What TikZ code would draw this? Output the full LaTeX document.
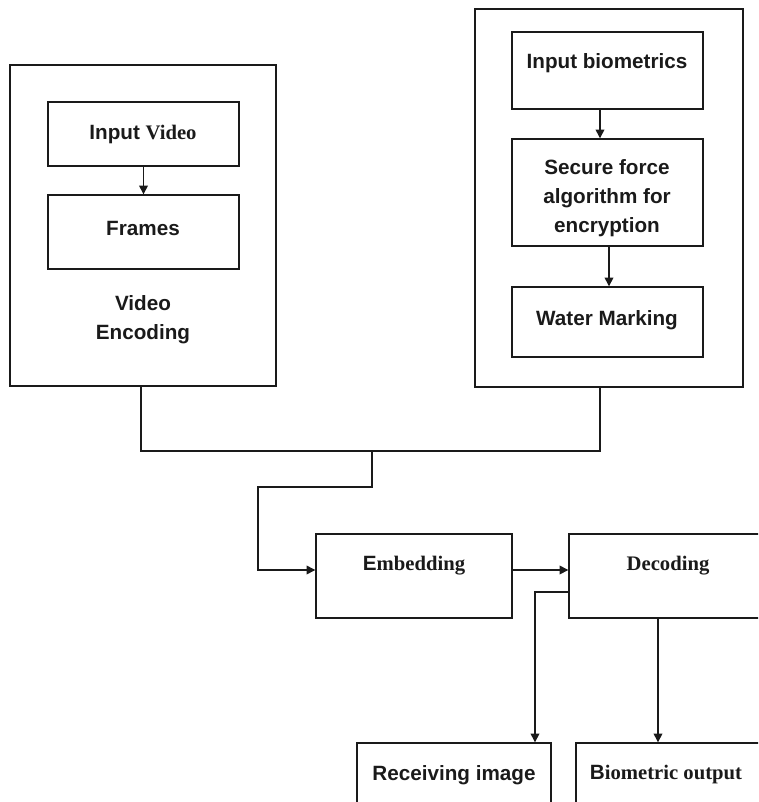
\documentclass[tikz,border=0pt]{standalone}
\usepackage{fontspec}
\setmainfont{Liberation Serif}
\setsansfont{Liberation Sans}
\usetikzlibrary{arrows.meta,fit}
\definecolor{ink}{HTML}{1A1A1A}
\tikzset{
  box/.style={draw=ink, line width=1.05pt, inner sep=0pt, fill=none},
  txt/.style={text=ink, font=\fontsize{15.5pt}{21.5pt}\selectfont\bfseries\sffamily, align=center, inner sep=0pt},
  conn/.style={draw=ink, line width=1pt},
  arr/.style={conn, -{Triangle[length=6.5pt,width=6.5pt]}}
}
\newcommand{\srf}{\rmfamily\bfseries}
\begin{document}
\begin{tikzpicture}[x=0.75pt,y=-0.75pt]
\useasboundingbox (0,0) rectangle (758,802);
\clip (0,0) rectangle (758,802);
% outer boxes
\node[box, fit={(10,65)(276,386)}] (vo) {};
\node[box, fit={(475,9)(743,387)}] (bo) {};
% inner boxes left
\node[box, fit={(48,102)(239,166)}] (iv) {};
\node[box, fit={(48,195)(239,269)}] (fr) {};
% inner boxes right
\node[box, fit={(512,32)(703,109)}] (ib) {};
\node[box, fit={(512,139)(703,246)}] (sf) {};
\node[box, fit={(512,287)(703,357)}] (wm) {};
% lower boxes
\node[box, fit={(316,534)(512,618)}] (emb) {};
\node[box, fit={(569,534)(775,618)}] (dec) {};
\node[box, fit={(357,743)(551,815)}] (ri) {};
\node[box, fit={(576,743)(775,815)}] (bout) {};
% texts
\node[txt] (tiv) at (143,134) {Input {\srf Video}};
\node[txt] (tfr) at (143,228) {Frames};
\node[txt] (tve) at (143,320) {Video\\Encoding};
\node[txt] (tib) at (607,63) {Input biometrics};
\node[txt] (tsf) at (607,198) {Secure force\\algorithm for\\encryption};
\node[txt] (twm) at (607,320) {Water Marking};
\node[txt] (temb) at (414,566) {E{\srf mbedding}};
\node[txt] (tdec) at (668,566) {\srf Decoding};
\node[txt] (tri) at (454,775) {Receiving image};
\node[txt] (tbo) at (666,775) {B{\srf iometric output}};
% connectors
\coordinate (j1) at (372,451);
\draw[arr] (iv) -- (fr);
\draw[arr] (ib.south -| 600,0) -- (sf.north -| 600,0);
\draw[arr] (sf.south -| 609,0) -- (wm.north -| 609,0);
\draw[conn] (vo.south -| 141,0) |- (j1) -| (bo.south -| 600,0);
\draw[arr] (j1) -- (372,487) -| (258,570) -- (emb.west |- 0,570);
\draw[arr] (emb.east |- 0,570) -- (dec.west |- 0,570);
\draw[arr] (dec.west |- 0,592) -| (ri.north -| 535,0);
\draw[arr] (dec.south -| 658,0) -- (bout.north -| 658,0);
\end{tikzpicture}
\end{document}
